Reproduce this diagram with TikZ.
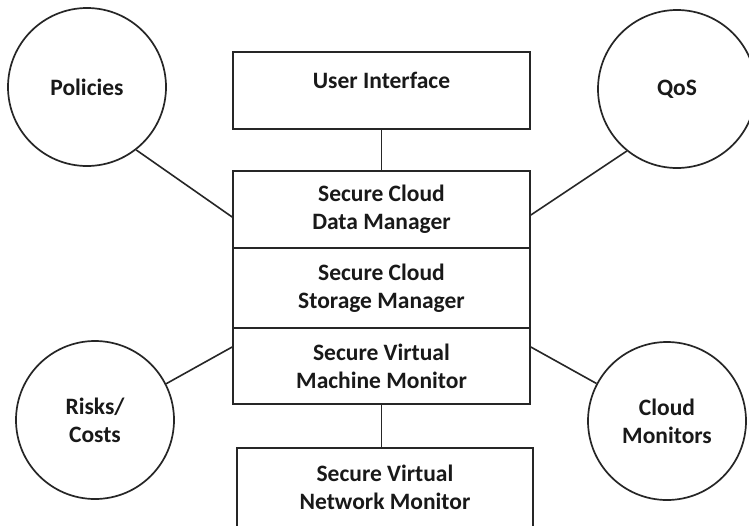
\documentclass[tikz,border=0pt]{standalone}
\usepackage{fontspec}
\setmainfont{Carlito}
\begin{document}
\begin{tikzpicture}[x=1pt,y=-1pt,
  every node/.style={font=\bfseries\fontsize{23.5}{28}\selectfont, text=black!90},
  bubble/.style={circle, draw=black!85, line width=1.7pt, minimum size=158pt, inner sep=0pt, align=center},
  layer/.style={draw=black!85, line width=1.7pt, inner sep=0pt, align=center},
  lbl/.style={align=center, inner sep=0pt},
  link/.style={draw=black!85, line width=1.6pt}]
\useasboundingbox (0,0) rectangle (749,525);
\clip (0,0) rectangle (749,525);
\fill[white] (0,0) rectangle (749,525);
% boxes
\node[layer, minimum width=297pt, minimum height=77pt] (ui) at (381.5,90.5) {};
\node[lbl] (uit) at (381.5,80) {User Interface};
\node[layer, minimum width=297pt, minimum height=77pt] (dm) at (381.5,209.5) {Secure Cloud\\Data Manager};
\node[layer, minimum width=297pt, minimum height=80pt] (sm) at (381.5,288) {Secure Cloud\\Storage Manager};
\node[layer, minimum width=297pt, minimum height=76pt] (vmm) at (381.5,366) {Secure Virtual\\Machine Monitor};
\node[layer, minimum width=296pt, minimum height=90pt] (nm) at (385,493) {};
\node[lbl] (nmt) at (385,487) {Secure Virtual\\Network Monitor};
% bubbles
\node[bubble] (pol) at (87,87) {Policies};
\node[bubble] (qos) at (677,89) {QoS};
\node[bubble] (rc) at (95,420) {Risks/\\Costs};
\node[bubble] (cm) at (667,421) {Cloud\\Monitors};
% connectors
\draw[link] (ui.south) -- (dm.north);
\draw[link] (vmm.south) -- (vmm.south |- nm.north);
\draw[link] (pol.-52) -- ([yshift=-7.5pt]dm.west);
\draw[link] (qos.231) -- ([yshift=-5.5pt]dm.east);
\draw[link] (rc.27) -- ([yshift=19pt]vmm.west);
\draw[link] (cm.152) -- ([yshift=19pt]vmm.east);
\end{tikzpicture}
\end{document}
